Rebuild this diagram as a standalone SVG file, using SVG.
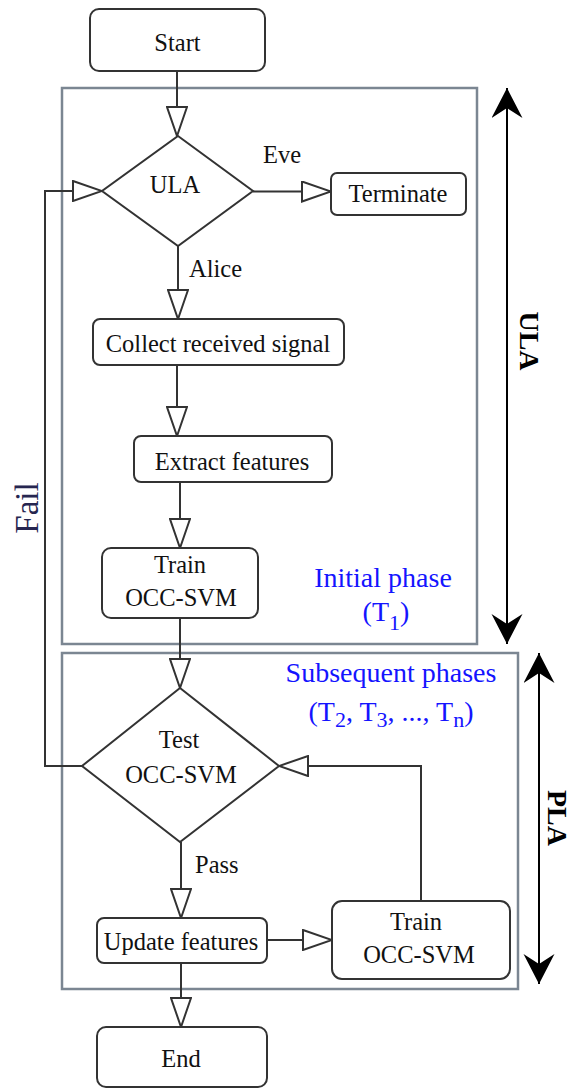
<svg xmlns="http://www.w3.org/2000/svg" width="575" height="1089" viewBox="0 0 575 1089">
<defs>
<style>
.node{fill:#fff;stroke:#333;stroke-width:2}
.box{fill:none;stroke:#7b8692;stroke-width:2.5}
.t{font-family:"Liberation Serif","Times New Roman",serif;font-size:24.5px;fill:#111;text-anchor:middle}
.lbl{font-family:"Liberation Serif","Times New Roman",serif;font-size:24.5px;fill:#111}
.blue{font-family:"Liberation Serif","Times New Roman",serif;font-size:28px;fill:#1414ff;text-anchor:middle}
.side{font-family:"Liberation Serif","Times New Roman",serif;font-size:28px;font-weight:bold;fill:#000;text-anchor:middle}
.fail{font-family:"Liberation Serif","Times New Roman",serif;font-size:33px;fill:#262650;text-anchor:middle}
.edge{fill:none;stroke:#333;stroke-width:2;marker-end:url(#hollow)}
.dbl{fill:none;stroke:#000;stroke-width:2;marker-start:url(#dart);marker-end:url(#dart)}
</style>
<marker id="hollow" markerUnits="userSpaceOnUse" markerWidth="32" markerHeight="22" refX="29" refY="10" orient="auto" viewBox="-1 -1 32 22">
<path d="M0,0 L29,10 L0,20 Z" fill="#fff" stroke="#333" stroke-width="2" stroke-linejoin="miter"/>
</marker>
<marker id="dart" markerUnits="userSpaceOnUse" markerWidth="32" markerHeight="32" refX="30" refY="15.5" orient="auto-start-reverse" viewBox="0 0 32 32">
<path d="M0,0 L30,15.5 L0,31 L10,15.5 Z" fill="#000"/>
</marker>
</defs>

<g id="containers">
<rect id="ula-phase" class="box" x="62" y="88" width="415" height="556"/>
<rect id="pla-phase" class="box" x="62" y="653" width="456" height="336"/>
</g>

<g id="connectors">
<path class="edge" d="M177,71 V136"/>
<path class="edge" d="M253,191.5 H331"/>
<path class="edge" d="M178,246 V319"/>
<path class="edge" d="M177,365 V436"/>
<path class="edge" d="M180,482 V548"/>
<path class="edge" d="M180,618 V688"/>
<path class="edge" d="M82,766 H45 V191 H102"/>
<path class="edge" d="M181,842 V918"/>
<path class="edge" d="M267,940 H332"/>
<path class="edge" d="M421,901 V766 H279"/>
<path class="edge" d="M181,963 V1027"/>
<path class="dbl" d="M507,88 V644"/>
<path class="dbl" d="M539,653 V984"/>
</g>

<g id="start"><rect class="node" x="90" y="9" width="175" height="62" rx="9"/><text class="t" x="177.5" y="51">Start</text></g>
<g id="ula-decision"><polygon class="node" points="178,136 253,191 178,246 102,191"/><text class="t" x="175" y="193">ULA</text></g>
<g id="terminate"><rect class="node" x="331" y="173" width="135" height="42" rx="6"/><text class="t" x="398" y="202">Terminate</text></g>
<g id="collect"><rect class="node" x="93" y="319" width="251" height="46" rx="7"/><text class="t" x="218" y="352">Collect received signal</text></g>
<g id="extract"><rect class="node" x="134" y="436" width="198" height="46" rx="7"/><text class="t" x="232" y="470">Extract features</text></g>
<g id="train1"><rect class="node" x="102" y="548" width="156" height="70" rx="9"/><text class="t" x="180" y="573">Train</text><text class="t" x="181" y="606">OCC-SVM</text></g>
<g id="test"><polygon class="node" points="180,688 279,766 180,842 82,766"/><text class="t" x="179" y="748">Test</text><text class="t" x="181" y="783">OCC-SVM</text></g>
<g id="update"><rect class="node" x="97" y="918" width="170" height="45" rx="7"/><text class="t" x="181" y="950">Update features</text></g>
<g id="train2"><rect class="node" x="332" y="901" width="178" height="78" rx="10"/><text class="t" x="416" y="930">Train</text><text class="t" x="419" y="963">OCC-SVM</text></g>
<g id="end"><rect class="node" x="97" y="1027" width="170" height="60" rx="9"/><text class="t" x="181" y="1067">End</text></g>

<g id="labels">
<text class="lbl" x="263" y="163">Eve</text>
<text class="lbl" x="189" y="277">Alice</text>
<text class="lbl" x="195" y="873">Pass</text>
<text class="fail" transform="translate(38,508) rotate(-90)" x="0" y="0">Fail</text>
<text class="blue" x="383" y="587">Initial phase</text>
<text class="blue" x="386" y="621">(T<tspan font-size="22" dy="9">1</tspan><tspan dy="-9">)</tspan></text>
<text class="blue" x="391" y="682">Subsequent phases</text>
<text class="blue" x="391" y="721">(T<tspan font-size="22" dy="6">2</tspan><tspan dy="-6">, T</tspan><tspan font-size="22" dy="6">3</tspan><tspan dy="-6">, ..., T</tspan><tspan font-size="22" dy="6">n</tspan><tspan dy="-6">)</tspan></text>
<text class="side" transform="translate(520,341) rotate(90)" x="0" y="0">ULA</text>
<text class="side" transform="translate(548,818) rotate(90)" x="0" y="0">PLA</text>
</g>
</svg>
